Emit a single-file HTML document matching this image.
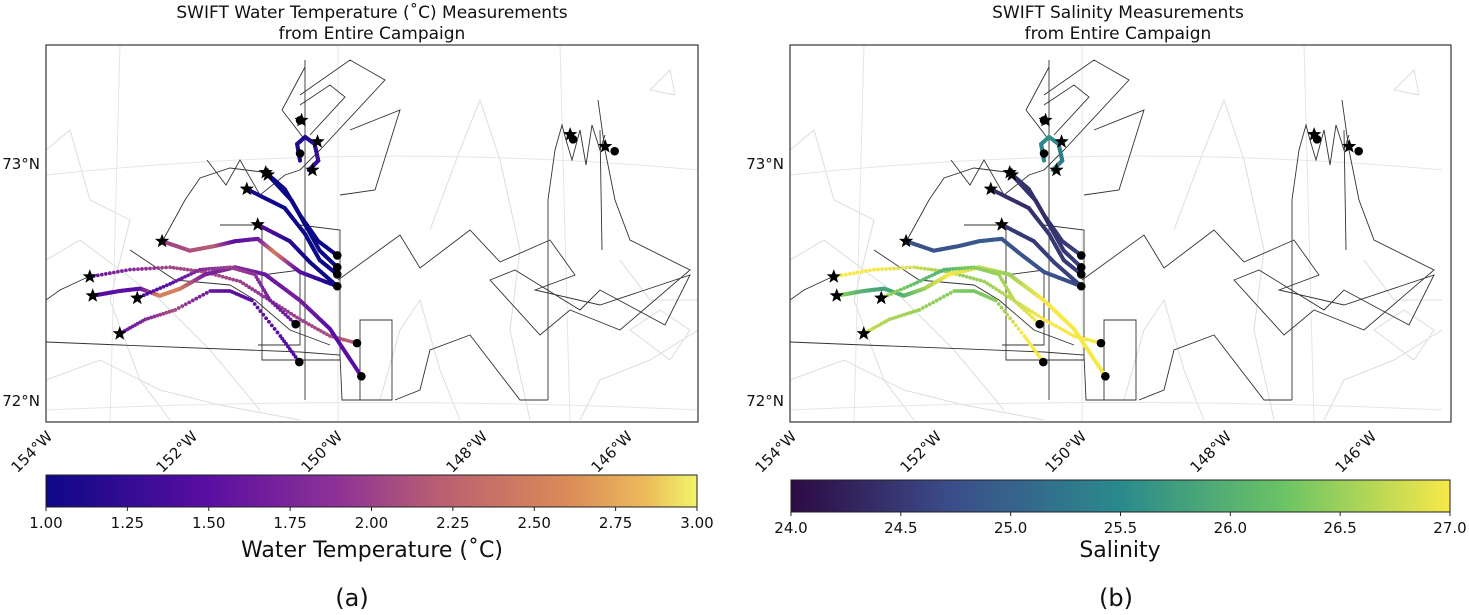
<!DOCTYPE html>
<html><head><meta charset="utf-8"><style>
body{margin:0;background:#fff;width:1469px;height:611px;overflow:hidden;font-family:"DejaVu Sans","Liberation Sans",sans-serif}
svg text{font-family:"DejaVu Sans","Liberation Sans",sans-serif;fill:#111}
</style></head><body>
<svg id="fig" width="1469" height="611" xmlns="http://www.w3.org/2000/svg">
<defs>
<linearGradient id="plasma"><stop offset="0" stop-color="#0d0887"/><stop offset="0.25" stop-color="#5b0ea3"/><stop offset="0.45" stop-color="#8e3395"/><stop offset="0.6" stop-color="#b85e72"/><stop offset="0.8" stop-color="#da8b58"/><stop offset="0.92" stop-color="#ebba5a"/><stop offset="1" stop-color="#f2f56a"/></linearGradient>
<linearGradient id="viridis"><stop offset="0" stop-color="#2d0a44"/><stop offset="0.25" stop-color="#3b4f8a"/><stop offset="0.5" stop-color="#2a8a8c"/><stop offset="0.75" stop-color="#6cc464"/><stop offset="1" stop-color="#f7e84a"/></linearGradient>
<g id="ships" fill="none" stroke="#333" stroke-width="0.9">
<path d="M305,60 L305,400 M282,110 L305,67 M282,110 L305,140 M300,95 L350,60 L385,80 L320,150 M300,105 L330,85 L345,97 L310,135 M350,130 L400,110 L375,190 L340,195 M207,160 L226,185 L240,160 L260,195 L285,175 L300,170 L320,150 M162,242 L185,200 L200,178 L230,168 L262,172 M90,276 L60,290 L46,300 M130,250 L175,280 L230,285 L255,300 L290,330 L330,345 M220,225 L262,225 L262,360 L340,360 L340,230 L300,225 M262,275 L300,270 L300,345 L258,345 M46,342 L120,345 L300,352 L340,355 L342,400 L392,400 L392,320 L360,320 L360,400 M338,280 L400,235 L420,268 L470,230 L500,262 L550,240 L575,275 L535,290 L600,305 L690,275 L665,325 L600,290 L580,310 L515,270 L490,280 L540,335 L570,310 L620,330 L690,270 L630,240 L615,200 L605,150 L598,100 M548,400 L548,200 L555,150 L562,125 L566,140 L572,160 L580,130 L586,165 L592,125 L600,150 L605,135 M548,400 L520,400 L470,335 L430,350 L420,390 L395,400 M600,130 L602,250"/>
</g>
<g id="contours" fill="none" stroke="#ddd" stroke-width="1">
<path d="M46,150 L70,130 L90,200 L130,220 L110,300 L140,380 L170,420 M46,260 L80,240 L120,270 L160,300 L210,350 L260,410 M46,380 L100,360 L160,390 L220,405 L300,420 M380,400 L400,330 L420,300 L440,370 L460,420 M430,230 L460,150 L480,100 L500,160 L520,250 L510,330 L530,420 M580,420 L600,380 L650,360 L698,330 M650,90 L670,70 L675,95 Z M620,260 L650,300 L698,300 M630,330 L660,310 L690,330 L670,360 Z"/>
<path d="M46,175 Q372,140 698,170 M46,410 Q372,395 698,410 M120,45 L110,422 M338,45 L338,422 M560,45 L570,422" stroke="#e6e6e6"/>
</g>
</defs>
<text x="372" y="18" text-anchor="middle" font-size="17">SWIFT Water Temperature (˚C) Measurements</text>
<text x="372" y="39" text-anchor="middle" font-size="17">from Entire Campaign</text>
<text x="1118" y="18" text-anchor="middle" font-size="17">SWIFT Salinity Measurements</text>
<text x="1118" y="39" text-anchor="middle" font-size="17">from Entire Campaign</text>
<g id="panelL"></g>
<g id="panelR" transform="translate(744,0)"></g>
<g id="cbL"></g>
<g id="cbR"></g>
<text x="372" y="557" text-anchor="middle" font-size="22">Water Temperature (˚C)</text>
<text x="1120" y="557" text-anchor="middle" font-size="22">Salinity</text>
<text x="352" y="606" text-anchor="middle" font-size="24" font-family="Liberation Sans">(a)</text>
<text x="1116" y="606" text-anchor="middle" font-size="24" font-family="Liberation Sans">(b)</text>
</svg>
<script>
const NS="http://www.w3.org/2000/svg";
const lonTicks=[-154,-152,-150,-148,-146];
const latTicks=[73,72];
const tempTicks=[1.00,1.25,1.50,1.75,2.00,2.25,2.50,2.75,3.00];
const salTicks=[24.0,24.5,25.0,25.5,26.0,26.5,27.0];
const trackLon=[
[-150.99,-150.73,-150.52,-150.27,-150.01],
[-150.96,-150.63,-150.45,-150.25,-150.01],
[-151.25,-150.73,-150.45,-150.25,-150.01],
[-151.10,-150.66,-150.38,-150.01],
[-152.41,-152.03,-151.68,-151.41,-151.10,-150.86,-150.52,-150.01],
[-150.52,-150.56,-150.45,-150.32,-150.27,-150.40],
[-153.40,-152.85,-152.30,-151.82,-151.34,-150.93,-150.52,-150.11,-149.74],
[-153.36,-152.99,-152.71,-152.44,-152.16,-151.82,-151.41,-151.00,-150.52,-150.11,-149.68],
[-152.75,-152.30,-151.89,-151.48,-151.14,-150.93,-150.58],
[-152.99,-152.64,-152.23,-151.75,-151.48,-151.18,-150.79,-150.53]];
const trackLat=[
[72.96,72.89,72.78,72.67,72.61],
[72.95,72.84,72.74,72.63,72.56],
[72.89,72.81,72.70,72.59,72.53],
[72.74,72.67,72.58,72.48],
[72.67,72.63,72.65,72.67,72.68,72.62,72.54,72.48],
[73.01,73.08,73.11,73.08,73.01,72.97],
[72.52,72.55,72.56,72.54,72.50,72.42,72.34,72.27,72.24],
[72.44,72.46,72.47,72.44,72.47,72.53,72.56,72.53,72.42,72.30,72.10],
[72.43,72.49,72.55,72.56,72.53,72.42,72.32],
[72.28,72.34,72.38,72.46,72.46,72.42,72.27,72.16]];
const trackTemp=[
[1.0,1.0,1.0,1.0,1.0],[1.0,1.0,1.0,1.0,1.0],[1.05,1.0,1.0,1.0,1.0],[1.5,1.2,1.0,1.0],
[2.0,2.1,2.2,1.5,1.6,2.5,1.5,1.0],[1.2,1.1,1.1,1.2,1.3,1.2],
[1.6,1.8,2.0,2.1,2.0,1.9,2.0,2.1,2.2],
[1.4,1.5,1.5,2.5,2.5,1.7,1.8,1.6,1.7,1.5,1.5],
[1.4,1.5,1.8,2.0,1.9,1.7,1.6],
[1.6,1.8,2.1,1.6,1.5,1.5,1.5,1.4]];
const trackSal=[
[24.5,24.4,24.4,24.5,24.6],[24.5,24.4,24.4,24.5,24.6],[24.4,24.4,24.5,24.5,24.6],[24.5,24.5,24.6,24.6],
[24.8,24.8,24.8,24.9,24.9,24.8,24.8,24.7],[25.5,25.4,25.6,25.5,25.3,25.4],
[27,27,26.8,26.5,26.5,26.7,27,27,27],
[26.5,26.0,25.8,26.0,26.5,27,26.8,26.5,27,27,27],
[26.6,26.2,26.0,26.4,26.5,26.7,27],
[26.8,26.6,26.5,26.4,26.3,26.4,27,27]];
const trackStyle=["solid","solid","solid","solid","solid","solid","dotted","solid","dotted","dotted"];
const startLon=[-150.99,-150.96,-151.25,-151.10,-152.41,-150.35,-153.40,-153.36,-152.75,-152.99,-150.50,-150.28,-146.82,-146.34];
const startLat=[72.96,72.95,72.89,72.74,72.67,72.97,72.52,72.44,72.43,72.28,73.18,73.09,73.12,73.07];
const endLon=[-150.01,-150.01,-150.01,-150.01,-149.74,-149.68,-150.58,-150.53,-150.52,-150.52,-146.78,-146.21];
const endLat=[72.61,72.56,72.53,72.48,72.24,72.10,72.32,72.16,73.04,73.18,73.10,73.05];

const X0=46,X1=698,Y0=45,Y1=422;
function xS(lon){return X0+(lon+154)*73;}
function yS(lat){return 163+(73-lat)*237;}
function lerp(a,b,t){return a+(b-a)*t;}
const plasmaStops=[[0,[13,8,135]],[0.25,[91,14,163]],[0.45,[142,51,149]],[0.6,[184,94,114]],[0.8,[218,139,88]],[0.92,[235,186,90]],[1,[242,245,106]]];
const viridisStops=[[0,[45,10,68]],[0.25,[59,79,138]],[0.5,[42,138,140]],[0.75,[108,196,100]],[1,[247,232,74]]];
function cmap(stops,t){t=Math.max(0,Math.min(1,t));for(let i=1;i<stops.length;i++){if(t<=stops[i][0]){const a=stops[i-1],b=stops[i];const u=(t-a[0])/(b[0]-a[0]);return `rgb(${a[1].map((v,k)=>Math.round(lerp(v,b[1][k],u))).join(',')})`;}}return 'rgb(242,245,106)';}
function el(tag,attrs,parent){const e=document.createElementNS(NS,tag);for(const k in attrs)e.setAttribute(k,attrs[k]);parent.appendChild(e);return e;}
function star(cx,cy,r){let p=[];for(let i=0;i<10;i++){const rr=i%2?r*0.42:r;const a=-Math.PI/2+i*Math.PI/5;p.push((cx+rr*Math.cos(a)).toFixed(1)+','+(cy+rr*Math.sin(a)).toFixed(1));}return p.join(' ');}

function drawPanel(g,vals,stops,vmin,vmax,bw){
  const clip=el('clipPath',{id:'clip'+g.id},g);el('rect',{x:X0,y:Y0,width:bw,height:Y1-Y0},clip);
  const inner=el('g',{'clip-path':'url(#clip'+g.id+')'},g);
  el('use',{href:'#contours'},inner);
  el('use',{href:'#ships'},inner);
  for(let t=0;t<trackLon.length;t++){
    const tg=el('g',{},inner);
    
    
    const lo=trackLon[t],la=trackLat[t],v=vals[t];
    for(let i=0;i<lo.length-1;i++){
      const n=10;
      for(let s=0;s<n;s++){
        const u0=s/n,u1=(s+1)/n;
        const x0=xS(lerp(lo[i],lo[i+1],u0)),y0=yS(lerp(la[i],la[i+1],u0));
        const x1=xS(lerp(lo[i],lo[i+1],u1)),y1=yS(lerp(la[i],la[i+1],u1));
        const c=cmap(stops,(lerp(v[i],v[i+1],(u0+u1)/2)-vmin)/(vmax-vmin));
        if(trackStyle[t]==='solid'){el('line',{x1:x0,y1:y0,x2:x1,y2:y1,stroke:c,'stroke-width':4,'stroke-linecap':'round'},tg);}
        else{el('circle',{cx:x0,cy:y0,r:1.9,fill:c},tg);}
      }
    }
  }
  for(let i=0;i<endLon.length;i++){const c=el('circle',{cx:xS(endLon[i]),cy:yS(endLat[i]),r:4.3,fill:'#000'},inner);
    
    }
  for(let i=0;i<startLon.length;i++){const s=el('polygon',{points:star(xS(startLon[i]),yS(startLat[i]),7.5),fill:'#000'},inner);
    
    }
  const fr=el('rect',{x:X0,y:Y0,width:bw,height:Y1-Y0,fill:'none',stroke:'#333','stroke-width':1.2},g);
  
  
  latTicks.forEach(l=>{const tx=el('text',{x:X0-6,y:yS(l)+6,'text-anchor':'end','font-size':15},g);tx.textContent=l+'°N';
    
    });
  lonTicks.forEach(l=>{const x=X0+(l+154)*72.5,y=Y1+8;const tx=el('text',{x:x,y:y,'text-anchor':'end','font-size':15,transform:`rotate(-45 ${x} ${y})`,dy:'0.7em'},g);tx.textContent=Math.abs(l)+'°W';
    
    });
}
const vT=trackTemp, vS=trackSal;
drawPanel(document.getElementById('panelL'),vT,plasmaStops,1,3,652);
drawPanel(document.getElementById('panelR'),vS,viridisStops,24,27,661);

function drawCb(g,grad,x0,x1,y0,y1,ticks,dec){
  const r=el('rect',{x:x0,y:y0,width:x1-x0,height:y1-y0,fill:'url(#'+grad+')',stroke:'#222','stroke-width':1},g);
  
  
  const mn=ticks[0],mx=ticks[ticks.length-1];
  ticks.forEach(t=>{const x=x0+(t-mn)/(mx-mn)*(x1-x0);el('line',{x1:x,x2:x,y1:y1,y2:y1+4,stroke:'#222'},g);
    const tx=el('text',{x:x,y:y1+21,'text-anchor':'middle','font-size':15},g);tx.textContent=t.toFixed(dec);
    
    });
}
drawCb(document.getElementById('cbL'),'plasma',46,697,475,507,tempTicks,2);
drawCb(document.getElementById('cbR'),'viridis',791,1450,480,512,salTicks,1);
</script>
</body></html>
